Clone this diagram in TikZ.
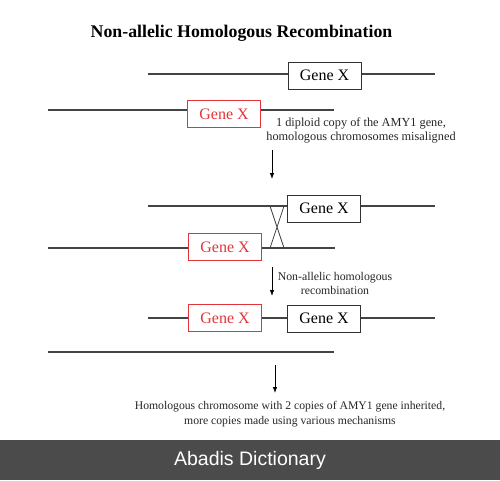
\documentclass[tikz,border=0pt]{standalone}
\usepackage{fontspec}
\setmainfont{Liberation Serif}
\newfontfamily\bannerfont{Liberation Sans}
\usetikzlibrary{arrows.meta}
\definecolor{genered}{HTML}{E2343A}
\definecolor{chrom}{HTML}{444444}
\definecolor{bannergray}{HTML}{4B4B4B}
\def\genewidth{73pt}

\begin{document}
\begin{tikzpicture}[x=1pt,y=-1pt,line width=1.1pt,draw=chrom]
    \tikzstyle{gene}=[rectangle,draw=black!80,line width=1pt,minimum width=\genewidth,minimum height=27pt,inner sep=0pt,font=\fontsize{16}{16}\selectfont]
    \tikzstyle{redgene}=[gene,draw=genered,text=genered]
    \tikzstyle{annot}=[align=center,inner sep=0pt,font=\fontsize{12.3}{14.5}\selectfont,text=black!85]
    \tikzstyle{flow}=[draw=black,line width=0.8pt,-{Latex[length=6pt,width=4.5pt]}]

    \useasboundingbox (0,0) rectangle (500,480);
    \fill[bannergray] (0,440) rectangle (500,480);
    \node[text=white,font=\bannerfont\fontsize{19.5}{20}\selectfont] (banner) at (250,460) {Abadis Dictionary};

    \node[font=\bfseries\fontsize{17.8}{18}\selectfont] (title) at (241.5,33) {Non-allelic Homologous Recombination};

    % misaligned chromosomes
    \node[gene] (x1) at (324.5,75.5) {Gene X};
    \coordinate (a1) at (148,74); \coordinate (b1) at (435,74);
    \draw (a1) -- (a1 -| x1.west);
    \draw (x1.east |- b1) -- (b1);
    \node[redgene] (r1) at (224,114) {Gene X};
    \coordinate (a2) at (48,110); \coordinate (b2) at (334,110);
    \draw (a2) -- (a2 -| r1.west);
    \draw (r1.east |- b2) -- (b2);
    \node[annot] (note1) at (361,130.5) {1 diploid copy of the AMY1 gene,\\homologous chromosomes misaligned};

    \coordinate (t1) at (272,150); \coordinate (h1) at (272,179);
    \draw[flow] (t1) -- (h1);

    % crossing over
    \node[gene] (x2) at (324,208.5) {Gene X};
    \coordinate (a3) at (148,206); \coordinate (b3) at (435,206);
    \draw (a3) -- (a3 -| x2.west);
    \draw (x2.east |- b3) -- (b3);
    \node[redgene] (r2) at (225,247) {Gene X};
    \coordinate (a4) at (48,248); \coordinate (b4) at (335,248);
    \draw (a4) -- (a4 -| r2.west);
    \draw (r2.east |- b4) -- (b4);
    \coordinate (k1) at (270,206); \coordinate (k2) at (284,206);
    \coordinate (k3) at (270,248); \coordinate (k4) at (284,248);
    \draw[line width=0.8pt] (k1) -- (k4) (k2) -- (k3);

    \coordinate (t2) at (272,267); \coordinate (h2) at (272,296);
    \draw[flow] (t2) -- (h2);
    \node[annot,font=\fontsize{11.8}{14}\selectfont] (note2) at (335,283) {Non-allelic homologous\\recombination};

    % after recombination
    \node[redgene] (r3) at (225,318) {Gene X};
    \node[gene] (x3) at (324,318.5) {Gene X};
    \coordinate (a5) at (148,318); \coordinate (b5) at (435,318);
    \draw (a5) -- (a5 -| r3.west);
    \draw (r3.east |- a5) -- (a5 -| x3.west);
    \draw (x3.east |- b5) -- (b5);
    \coordinate (a6) at (48,352); \coordinate (b6) at (334,352);
    \draw (a6) -- (b6);

    \coordinate (t3) at (275,365); \coordinate (h3) at (275,393);
    \draw[flow] (t3) -- (h3);
    \node[annot,font=\fontsize{11.7}{15}\selectfont] (note3) at (290,414.5) {Homologous chromosome with 2 copies of AMY1 gene inherited,\\more copies made using various mechanisms};
\end{tikzpicture}
\end{document}
